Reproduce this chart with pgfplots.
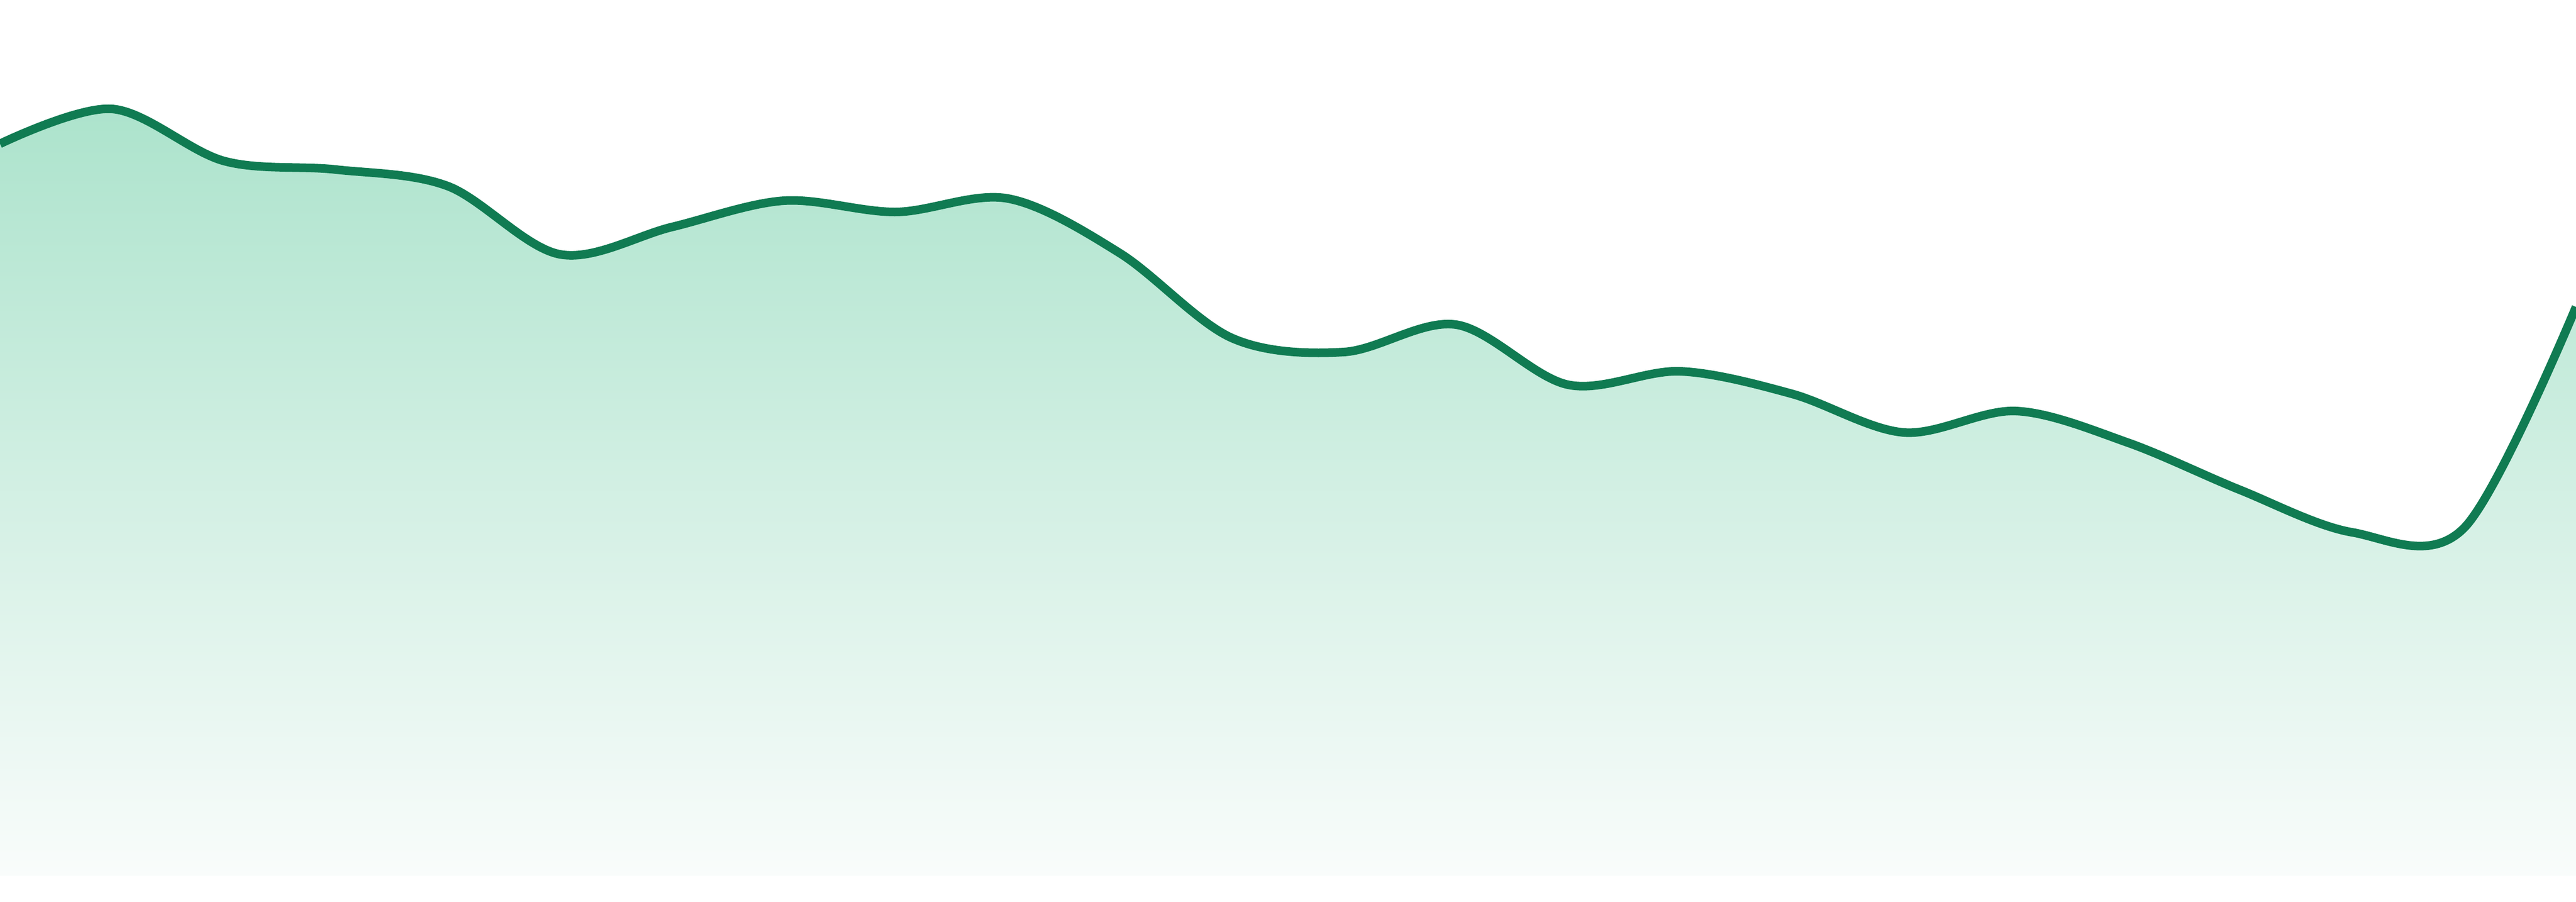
\documentclass[border=0pt]{standalone}
\usepackage{pgfplots}
\pgfplotsset{compat=1.18}

\definecolor{lineGreen}{HTML}{107B52}
\definecolor{fillTop}{HTML}{ACE3CC}
\definecolor{fillBottom}{HTML}{F9FCFB}

\begin{document}
\begin{tikzpicture}
    \begin{axis}[
        scale only axis,
        width=1440pt, height=504pt,
        xmin=0, xmax=23,
        ymin=-48, ymax=1632,
        axis lines=box,
        axis line style={draw=none},
        xtick=\empty, ytick=\empty,
        ]
        \addplot[draw=none, smooth, tension=0.55,
                 top color=fillTop, bottom color=fillBottom]
            coordinates {
            (0,1364) (1,1429) (2,1332) (3,1316) (4,1285) (5,1158)
            (6,1209) (7,1258) (8,1237) (9,1262) (10,1160) (11,1002)
            (12,976) (13,1027) (14,915) (15,940) (16,898) (17,826)
            (18,866) (19,807) (20,719) (21,640) (22,648) (23,1060)
            } \closedcycle;
        \addplot[lineGreen, line width=4.8pt, smooth, tension=0.55]
            coordinates {
            (0,1364) (1,1429) (2,1332) (3,1316) (4,1285) (5,1158)
            (6,1209) (7,1258) (8,1237) (9,1262) (10,1160) (11,1002)
            (12,976) (13,1027) (14,915) (15,940) (16,898) (17,826)
            (18,866) (19,807) (20,719) (21,640) (22,648) (23,1060)
            };
    \end{axis}
\end{tikzpicture}
\end{document}
